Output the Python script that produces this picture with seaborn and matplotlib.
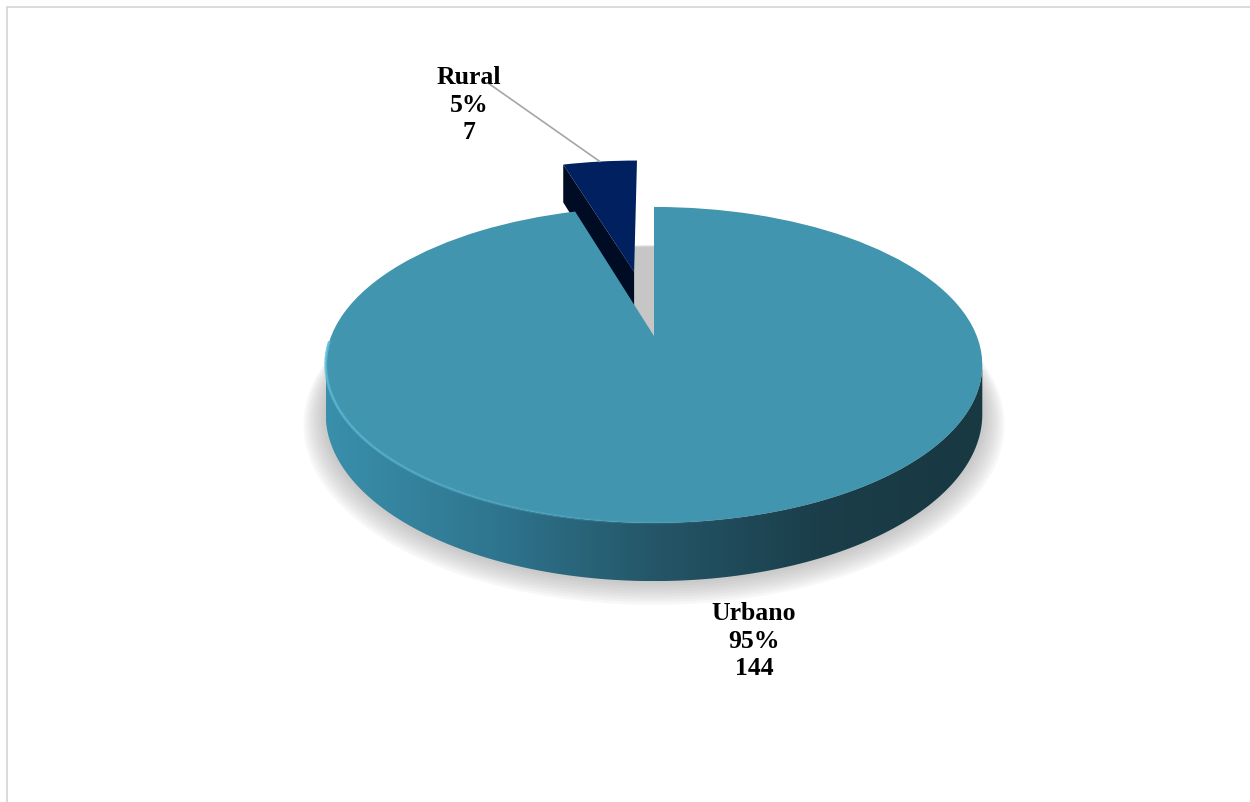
import numpy as np
import matplotlib
matplotlib.use("Agg")
import matplotlib.pyplot as plt
import matplotlib.transforms as mtransforms
from matplotlib.patches import Polygon, Rectangle
from matplotlib.colors import LinearSegmentedColormap
import seaborn as sns

# data
categories = ["Urbano", "Rural"]
counts = [144, 7]
top_colors = ["#4195ae", "#002060"]
side_dark = ["#1a3c48", "#000b24"]
explode = [0.0, 0.46]

# 3d look: perspective tilt of the pie plane
K = 0.183      # perspective strength
SQ = 0.4655    # vertical squash
HX = 0.984     # horizontal squash
DEPTH = 0.145  # thickness


def proj(x, y, z=0.0):
    d = 1 + K * np.asarray(y)
    return HX * np.asarray(x) / d, (SQ * np.asarray(y) - z * DEPTH) / d


class Tilt(mtransforms.Transform):
    input_dims = output_dims = 2
    is_separable = False

    def __init__(self, z=0.0):
        super().__init__()
        self.z = z

    def transform_non_affine(self, values):
        v = np.asarray(values, float)
        px, py = proj(v[:, 0], v[:, 1], self.z)
        return np.column_stack([px, py])


sns.set_theme(style="white")
plt.rcParams["font.family"] = ["Liberation Serif", "DejaVu Serif"]

W, H = 1250, 802
fig = plt.figure(figsize=(W / 100, H / 100), dpi=100)
ax = fig.add_axes([0, 0, 1, 1])

wedges, _ = ax.pie(counts, colors=top_colors, startangle=90, counterclock=False,
                   explode=explode, radius=1.0,
                   wedgeprops=dict(linewidth=0, edgecolor="none"))

# soft shadow under the disc
th = np.linspace(0, 2 * np.pi, 300)
for s in np.linspace(1.065, 1.0, 10):
    sx, sy = proj(s * np.cos(th), s * np.sin(th), 1.0 + (s - 1) * 2.0)
    ax.add_patch(Polygon(np.column_stack([sx, sy]), closed=True, fc="#9a9a9a",
                         ec="none", alpha=0.07, zorder=0.5))

side_cmap = LinearSegmentedColormap.from_list(
    "side", ["#3a8fab", "#2f7690", "#245668", "#1b3e4a", "#183842"])
sil = np.degrees(np.arcsin(-K))  # silhouette angle of the disc

for i, w in enumerate(wedges):
    cx, cy = w.center
    r = w.r
    base_z = 5 if i == 0 else 2  # urbano in front
    # visible outer side (front half only)
    lo = max(w.theta1, -180 - sil)
    hi = min(w.theta2, sil)
    if lo >= hi:
        lo, hi = max(w.theta1 - 360, -180 - sil), min(w.theta2 - 360, sil)
    if lo < hi:
        t = np.radians(np.linspace(lo, hi, 200))
        xs, ys = cx + r * np.cos(t), cy + r * np.sin(t)
        tx, ty = proj(xs, ys, 0)
        bx, by = proj(xs, ys, 1)
        pts = np.column_stack([np.r_[tx, bx[::-1]], np.r_[ty, by[::-1]]])
        clip = Polygon(pts, closed=True, transform=ax.transData, fc="none", ec="none")
        ax.add_patch(clip)
        grad = np.linspace(0, 1, 256)[None, :]
        im = ax.imshow(grad, cmap=side_cmap, aspect="auto", zorder=base_z,
                       extent=[pts[:, 0].min(), pts[:, 0].max(),
                               pts[:, 1].min(), pts[:, 1].max()])
        im.set_clip_path(clip)
    # radial cut face facing the viewer (exploded slice)
    if explode[i] > 0:
        a = np.radians(w.theta2)
        ex, ey = cx + r * np.cos(a), cy + r * np.sin(a)
        p0, p1 = proj(cx, cy, 0), proj(ex, ey, 0)
        p2, p3 = proj(ex, ey, 1), proj(cx, cy, 1)
        ax.add_patch(Polygon([p0, p1, p2, p3], closed=True, fc=side_dark[i],
                             ec="none", zorder=base_z + 0.5))
    w.set_transform(Tilt(0) + ax.transData)
    w.set_zorder(base_z + 1)

# light rim on the front-left edge of the big slice, fading out
t = np.radians(np.linspace(182, 285, 60))
rx, ry = proj(np.cos(t), np.sin(t), 0)
fade = np.linspace(0.9, 0.0, len(t) - 1)
for j in range(len(t) - 1):
    ax.plot(rx[j:j + 2], ry[j:j + 2], color="#5cbbd9", lw=2.0, alpha=fade[j],
            zorder=7, solid_capstyle="butt")

# labels
total = sum(counts)
label_pos = {"Urbano": (754, H - 641), "Rural": (469, H - 105)}
leader_start = {"Rural": (488, H - 83)}
for i, (name, n) in enumerate(zip(categories, counts)):
    txt = f"{name}\n{n / total * 100:.0f}%\n{n}"
    ax.annotate(txt, xy=label_pos[name], xycoords="figure pixels",
                ha="center", va="center", fontsize=18.5, fontweight="bold",
                color="black", linespacing=1.25, zorder=10)
    if explode[i] > 0:
        w = wedges[i]
        mid = np.radians((w.theta1 + w.theta2) / 2)
        xy = proj(w.center[0] + w.r * np.cos(mid), w.center[1] + w.r * np.sin(mid), 0)
        ax.annotate("", xy=xy, xytext=leader_start[name], textcoords="figure pixels",
                    zorder=9, arrowprops=dict(arrowstyle="-", color="#a6a6a6", lw=1.2,
                                              shrinkA=0, shrinkB=0))

# map 1 data unit to 328 px, pie centre at (654, 336) from top
S, CX, CY = 328.0, 654.0, H - 336.0
ax.set_xlim(-CX / S, (W - CX) / S)
ax.set_ylim(-CY / S, (H - CY) / S)
ax.set_aspect("auto")
ax.axis("off")

fig.add_artist(Rectangle((7 / W, -0.1), 2, (H - 7) / H + 0.1, transform=fig.transFigure,
                         fill=False, ec="#d4d4d4", lw=1.2))

fig.savefig("out.png", dpi=100, facecolor="white")
